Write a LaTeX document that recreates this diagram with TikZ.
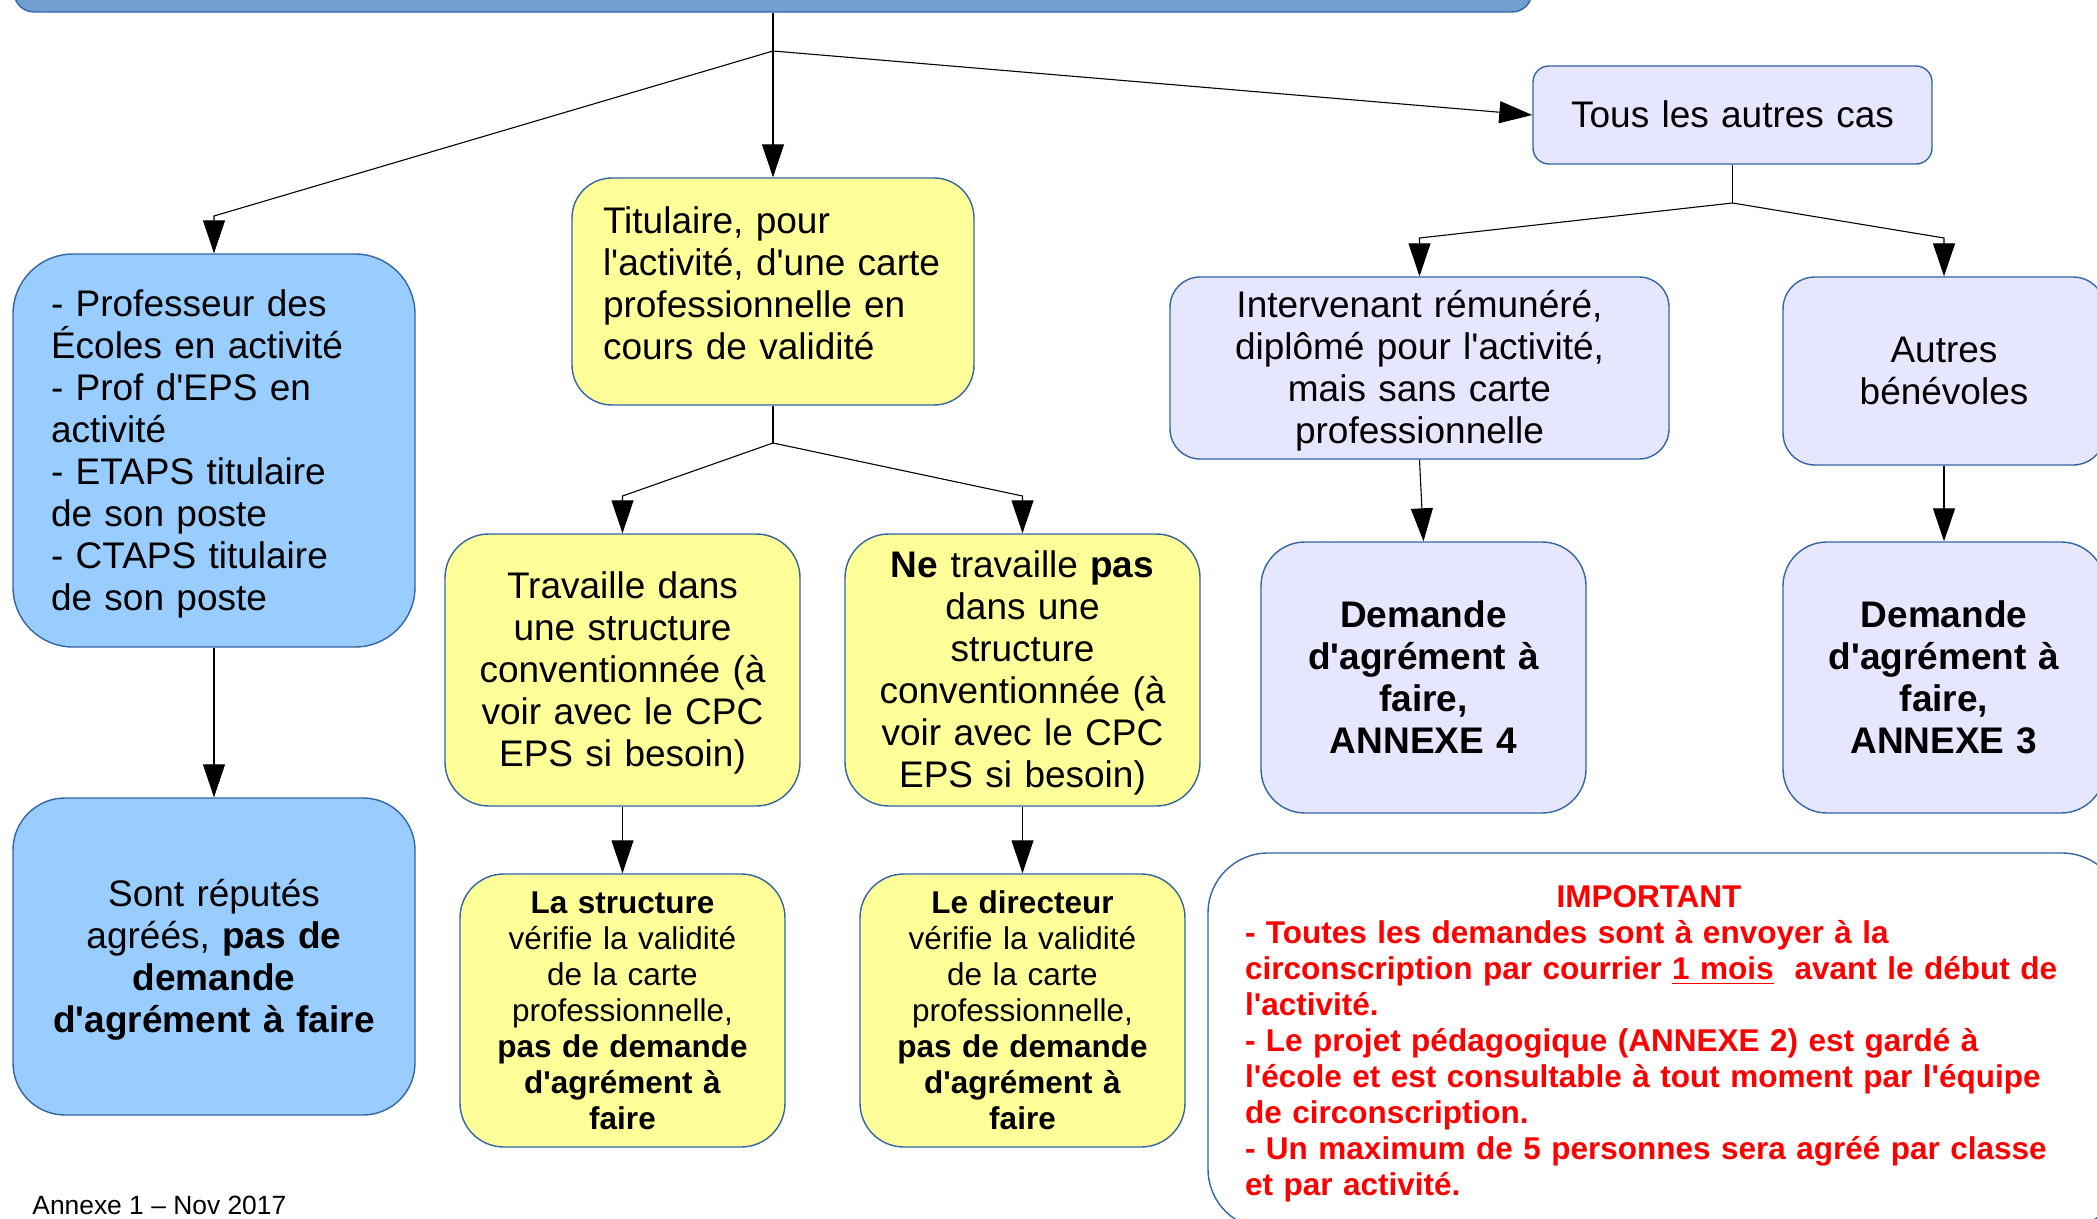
\documentclass[tikz,border=0pt]{standalone}
\usepackage{fontspec}
\setmainfont{Liberation Sans}[Ligatures=TeXOff]
\usetikzlibrary{arrows.meta}
\definecolor{bordc}{HTML}{3465A4}
\definecolor{barc}{HTML}{729FCF}
\definecolor{lblue}{HTML}{99CCFF}
\definecolor{lyel}{HTML}{FFFF99}
\definecolor{lav}{HTML}{E6E6FF}
\definecolor{redt}{HTML}{FF0000}
\newcommand\bigfnt{\fontsize{18.5}{21}\selectfont}
\newcommand\smallfnt{\fontsize{15.75}{18}\selectfont}
% line-box strut (ascent + descent of the font), optional extra depth
\newcommand\lst[1][0pt]{\rule[\dimexpr-0.212em-#1\relax]{0pt}{\dimexpr1.117em+#1\relax}}
\tikzset{
  box/.style={draw=bordc, line width=0.7pt, inner sep=0pt, align=center, font=\bigfnt},
  conn/.style={draw=black, line width=0.55pt},
  arr/.style={conn, -{Triangle[length=16.5pt,width=11pt]}},
}
\begin{document}
\begin{tikzpicture}[x=0.5pt,y=-0.5pt]
\useasboundingbox (0,0) rectangle (2097,1219);
\fill[white] (0,0) rectangle (2097,1219);
\begin{scope}
\clip (0,0) rectangle (2097,1219);
% boxes
\node[box, fill=barc, minimum width=759pt, minimum height=36pt, rounded corners=10pt] (bar) at (773,-24) {};
\node[box, fill=lblue, minimum width=201pt, minimum height=196.5pt, rounded corners=30pt, text width=163pt, align=left] (prof) at (214,450.5)
  {\lst- Professeur des\\ Écoles en activité\\ - Prof d'EPS en\\ activité\\ - ETAPS titulaire\\ de son poste\\ - CTAPS titulaire\\ de son poste\lst};
\node[box, fill=lyel, minimum width=201pt, minimum height=113.5pt, rounded corners=20pt, text width=170pt, align=left] (tit) at (773,291.5)
  {\lst\mbox{Titulaire, pour}\\ \mbox{l'activité, d'une carte}\\ \mbox{professionnelle en}\\ \mbox{cours de validité}\lst[8pt]};
\node[box, fill=lav, minimum width=199.5pt, minimum height=49pt, rounded corners=8pt, text width=185pt] (tous) at (1732.5,115)
  {\lst Tous les autres cas};
\node[box, fill=lav, minimum width=249.5pt, minimum height=91pt, rounded corners=15pt, text width=230pt] (inter) at (1419.5,368)
  {\lst Intervenant rémunéré,\\ diplômé pour l'activité,\\ mais sans carte\\ professionnelle\lst};
\node[box, fill=lav, minimum width=161pt, minimum height=94pt, rounded corners=16pt, text width=145pt] (autres) at (1944,371)
  {\lst Autres\\ bénévoles\lst};
\node[box, fill=lav, minimum width=162.5pt, minimum height=135.5pt, rounded corners=22pt, text width=150pt] (dem4) at (1423.5,677.5)
  {\bfseries\lst Demande\\ d'agrément à\\ faire,\\ ANNEXE 4\lst};
\node[box, fill=lav, minimum width=161pt, minimum height=135.5pt, rounded corners=22pt, text width=150pt] (dem3) at (1944,677.5)
  {\bfseries\lst Demande\\ d'agrément à\\ faire,\\ ANNEXE 3\lst};
\node[box, fill=lyel, minimum width=177.5pt, minimum height=136pt, rounded corners=22pt, text width=165pt] (trav) at (622.5,670)
  {\lst Travaille dans\\ une structure\\ conventionnée (à\\ voir avec le CPC\\ EPS si besoin)\lst};
\node[box, fill=lyel, minimum width=177.5pt, minimum height=136pt, rounded corners=22pt, text width=165pt] (netrav) at (1022.5,670)
  {\lst\textbf{Ne} travaille \textbf{pas}\\ dans une\\ structure\\ conventionnée (à\\ voir avec le CPC\\ EPS si besoin)\lst};
\node[box, fill=lyel, minimum width=162.5pt, minimum height=136.5pt, rounded corners=22pt, text width=150pt, font=\smallfnt] (struct) at (622.5,1010.5)
  {\lst\textbf{La structure}\\ vérifie la validité\\ de la carte\\ professionnelle,\\ \textbf{pas de demande}\\ \textbf{d'agrément à}\\ \textbf{faire}\lst};
\node[box, fill=lyel, minimum width=162.5pt, minimum height=136.5pt, rounded corners=22pt, text width=150pt, font=\smallfnt] (direc) at (1022.5,1010.5)
  {\lst\textbf{Le directeur}\\ vérifie la validité\\ de la carte\\ professionnelle,\\ \textbf{pas de demande}\\ \textbf{d'agrément à}\\ \textbf{faire}\lst};
\node[box, fill=lblue, minimum width=201pt, minimum height=158.5pt, rounded corners=26pt, text width=190pt] (sont) at (214,956.5)
  {\lst Sont réputés\\ agréés, \textbf{pas de}\\ \textbf{demande}\\ \textbf{d'agrément à faire}\lst};
\node[box, fill=white, minimum width=457pt, minimum height=188pt, rounded corners=30pt, text width=420pt, align=left, font=\smallfnt\bfseries, text=redt] (imp) at (1665,1041)
  {\makebox[\linewidth]{\lst IMPORTANT\hspace{16pt}}\\
   - Toutes les demandes sont à envoyer à la\\
   circonscription par courrier \underline{1 mois}\ \ avant le début de\\
   l'activité.\\
   - Le projet pédagogique (ANNEXE 2) est gardé à\\
   l'école et est consultable à tout moment par l'équipe\\
   de circonscription.\\
   - Un maximum de 5 personnes sera agréé par classe\\
   et par activité.\lst};
\node[anchor=base west, inner sep=0pt, font=\fontsize{13.2}{15}\selectfont] (foot) at (32,1214) {Annexe 1 – Nov 2017};
% connectors
\coordinate (j1) at (773,51);
\coordinate (k1) at (214,216);
\draw[conn] (bar.south) -- (j1);
\draw[arr] (j1) -- (k1) -- (prof.north);
\draw[arr] (j1) -- (tit.north);
\draw[arr] (j1) -- (tous.west);
\coordinate (j2) at (773,443);
\coordinate (k2) at (622.5,496);
\coordinate (k3) at (1022.5,496);
\draw[conn] (tit.south) -- (j2);
\draw[arr] (j2) -- (k2) -- (trav.north);
\draw[arr] (j2) -- (k3) -- (netrav.north);
\draw[arr] (trav.south) -- (struct.north);
\draw[arr] (netrav.south) -- (direc.north);
\draw[arr] (prof.south) -- (sont.north);
\coordinate (j3) at (1732.5,203);
\coordinate (k4) at (1419.5,238);
\coordinate (k5) at (1944,238);
\draw[conn] (tous.south) -- (j3);
\draw[arr] (j3) -- (k4) -- (inter.north);
\draw[arr] (j3) -- (k5) -- (autres.north);
\draw[arr] (inter.south) -- (dem4.north);
\draw[arr] (autres.south) -- (dem3.north);
\end{scope}
\end{tikzpicture}
\end{document}
